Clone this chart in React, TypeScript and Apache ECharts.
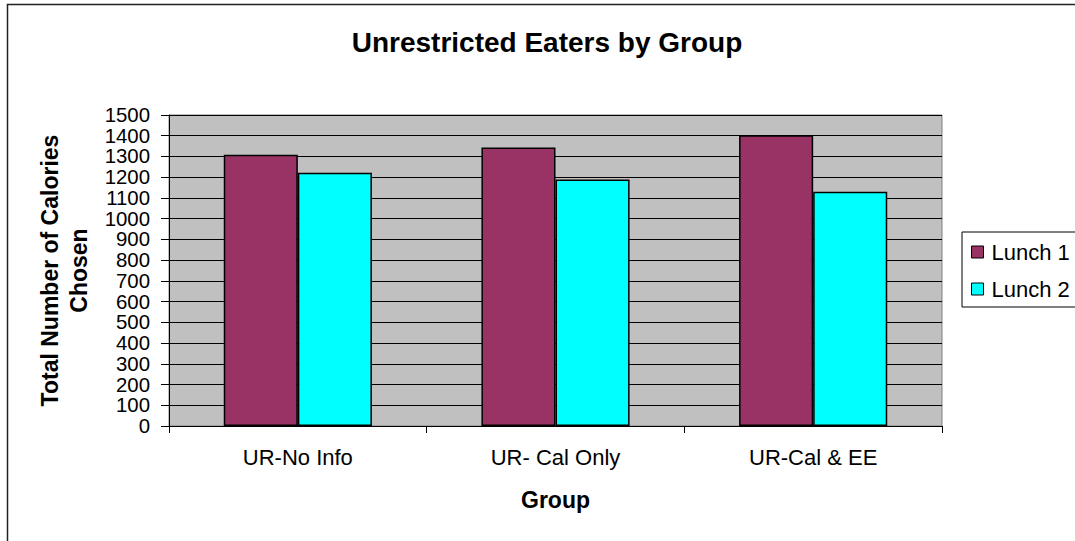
import React, { useEffect, useRef } from "react";
import * as echarts from "echarts";

const categories = ["UR-No Info", "UR- Cal Only", "UR-Cal & EE"];
const lunch1 = [1308, 1343, 1402];
const lunch2 = [1221, 1189, 1130];
const seriesNames = ["Lunch 1", "Lunch 2"];
const titleText = "Unrestricted Eaters by Group";
const yAxisName = "Total Number of Calories\nChosen";
const xAxisName = "Group";

const FONT = "'Liberation Sans', Arial, sans-serif";

export default function App() {
  const ref = useRef<HTMLDivElement>(null);
  useEffect(() => {
    if (!ref.current) return;
    const chart = echarts.init(ref.current, null, { renderer: "svg" });
    chart.setOption({
      animation: false,
      backgroundColor: "#ffffff",
      textStyle: { fontFamily: FONT, color: "#000" },
      graphic: [
        {
          type: "rect",
          shape: { x: 7.5, y: 4.5, width: 1200, height: 700 },
          style: { fill: "none", stroke: "#222", lineWidth: 1.5 },
          z: 100,
        },
        {
          type: "text",
          x: 547,
          y: 42,
          style: {
            text: titleText,
            fontFamily: FONT,
            fontSize: 28,
            fontWeight: "bold",
            fill: "#000",
            align: "center",
            verticalAlign: "middle",
          },
        },
      ],
      legend: {
        orient: "vertical",
        left: 962,
        top: 232,
        data: seriesNames,
        icon: "rect",
        itemWidth: 12,
        itemHeight: 12,
        itemGap: 15,
        padding: [9, 40, 7, 9],
        borderColor: "#000",
        borderWidth: 1,
        backgroundColor: "#fff",
        itemStyle: { borderColor: "#000", borderWidth: 1 },
        textStyle: {
          fontFamily: FONT,
          fontSize: 22,
          lineHeight: 22,
          color: "#000",
          padding: [0, 0, 0, 3],
        },
      },
      grid: {
        left: 169,
        top: 115,
        right: 133,
        bottom: 115,
        show: true,
        backgroundColor: "#C0C0C0",
        borderColor: "#808080",
        borderWidth: 1,
      },
      xAxis: {
        type: "category",
        data: categories,
        name: xAxisName,
        nameLocation: "middle",
        nameGap: 62,
        nameTextStyle: {
          fontFamily: FONT,
          fontSize: 23,
          fontWeight: "bold",
          color: "#000",
        },
        axisLine: { show: true, lineStyle: { color: "#000", width: 1 } },
        axisTick: {
          show: true,
          inside: false,
          length: 7,
          lineStyle: { color: "#000" },
        },
        axisLabel: {
          fontFamily: FONT,
          fontSize: 22,
          color: "#000",
          margin: 20,
        },
        splitLine: { show: false },
      },
      yAxis: {
        type: "value",
        min: 0,
        max: 1500,
        interval: 100,
        name: yAxisName,
        nameLocation: "middle",
        nameGap: 75,
        nameTextStyle: {
          fontFamily: FONT,
          fontSize: 23,
          fontWeight: "bold",
          color: "#000",
          lineHeight: 29,
          align: "center",
        },
        axisLine: { show: true, lineStyle: { color: "#000", width: 1 } },
        axisTick: {
          show: true,
          inside: false,
          length: 8,
          lineStyle: { color: "#000" },
        },
        axisLabel: {
          fontFamily: FONT,
          fontSize: 20.4,
          lineHeight: 20.4,
          color: "#000",
          margin: 19,
          showMinLabel: true,
          showMaxLabel: true,
          formatter: (v: number) => String(v),
        },
        splitLine: { show: true, lineStyle: { color: "#000", width: 1 } },
      },
      series: [
        {
          name: seriesNames[0],
          type: "bar",
          data: lunch1,
          barGap: "0%",
          barCategoryGap: "42.5%",
          itemStyle: { color: "#993366", borderColor: "#000", borderWidth: 1.5 },
        },
        {
          name: seriesNames[1],
          type: "bar",
          data: lunch2,
          barGap: "0%",
          barCategoryGap: "42.5%",
          itemStyle: { color: "#00FFFF", borderColor: "#000", borderWidth: 1.5 },
        },
      ],
    });
    return () => chart.dispose();
  }, []);
  return (
    <div
      ref={ref}
      style={{ position: "fixed", left: 0, top: 0, width: 1075, height: 541 }}
    />
  );
}
